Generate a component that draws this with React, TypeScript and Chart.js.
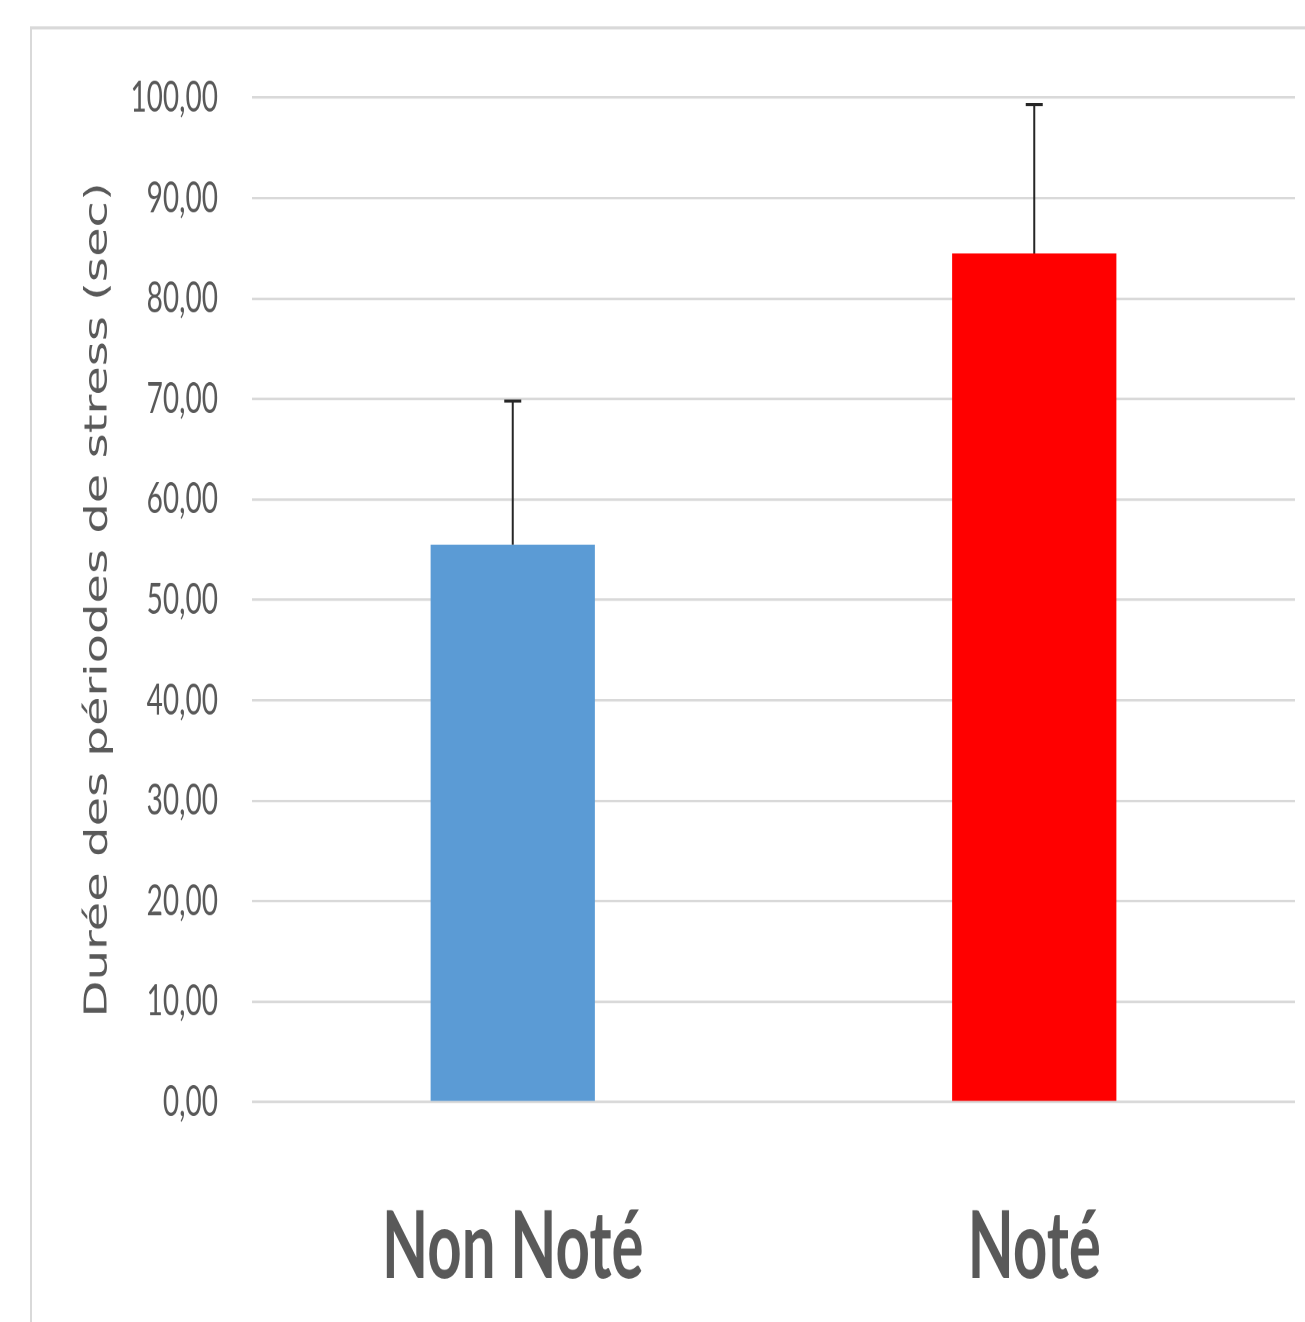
import React, { useEffect, useRef } from 'react';
import { Chart, registerables } from 'chart.js';

Chart.register(...registerables);

// ---- data ----
const categories: string[] = ['Non Noté', 'Noté'];
const meanValues: number[] = [55.5, 84.5];
const errorUp: number[] = [14.3, 14.8];
const barColors: string[] = ['#5b9bd5', '#ff0000'];
const yAxisTitle = 'Durée des périodes de stress (sec)';
const yMin = 0;
const yMax = 100;
const yStep = 10;

// ---- layout (the reference is stretched vertically) ----
const PAGE_W = 1305;
const PAGE_H = 1322;
const STRETCH = 1.55;
const CANVAS_H = Math.round(PAGE_H / STRETCH);

const frameBorder = {
  id: 'frameBorder',
  beforeDraw(chart: any) {
    const ctx = chart.ctx;
    ctx.save();
    ctx.strokeStyle = '#d9d9d9';
    ctx.lineWidth = 2;
    ctx.beginPath();
    ctx.moveTo(31, chart.height);
    ctx.lineTo(31, 18);
    ctx.lineTo(chart.width, 18);
    ctx.stroke();
    ctx.restore();
  },
};

const errorBars = {
  id: 'errorBars',
  afterDatasetsDraw(chart: any) {
    const ctx = chart.ctx;
    const meta = chart.getDatasetMeta(0);
    const yScale = chart.scales.y;
    ctx.save();
    ctx.strokeStyle = '#262626';
    ctx.lineWidth = 2;
    meta.data.forEach((bar: any, i: number) => {
      const x = bar.x;
      const yTop = yScale.getPixelForValue(meanValues[i] + errorUp[i]);
      const yBase = yScale.getPixelForValue(meanValues[i]);
      ctx.beginPath();
      ctx.moveTo(x, yBase);
      ctx.lineTo(x, yTop);
      ctx.moveTo(x - 8.5, yTop);
      ctx.lineTo(x + 8.5, yTop);
      ctx.stroke();
    });
    ctx.restore();
  },
};

export default function App() {
  const canvasRef = useRef<HTMLCanvasElement | null>(null);

  useEffect(() => {
    if (!canvasRef.current) return;
    const chart = new Chart(canvasRef.current, {
      type: 'bar',
      data: {
        labels: categories,
        datasets: [
          {
            data: meanValues,
            backgroundColor: barColors,
            borderWidth: 0,
            categoryPercentage: 1,
            barPercentage: 0.315,
          },
        ],
      },
      options: {
        responsive: false,
        animation: false,
        devicePixelRatio: 2,
        layout: { padding: { left: 0, right: 10, top: 63, bottom: 0 } },
        plugins: {
          legend: { display: false },
          tooltip: { enabled: false },
        },
        scales: {
          x: {
            grid: { display: false },
            border: { display: false },
            ticks: {
              color: '#595959',
              padding: 50,
              font: { family: 'Lato', size: 60, weight: 'bold' },
            },
            afterFit(scale: any) {
              scale.height = CANVAS_H - 711;
            },
          },
          y: {
            min: yMin,
            max: yMax,
            border: { display: false },
            grid: { color: '#d9d9d9', lineWidth: 1.6, drawTicks: false },
            ticks: {
              stepSize: yStep,
              padding: 34,
              color: '#595959',
              font: { family: 'Lato', size: 28 },
              callback: (v: any) => Number(v).toFixed(2).replace('.', ','),
            },
            title: {
              display: true,
              text: yAxisTitle,
              color: '#595959',
              padding: { top: 80, bottom: 0 },
              font: { family: 'DejaVu Sans', size: 31 },
            },
            afterFit(scale: any) {
              scale.width = 252;
            },
          },
        },
      },
      plugins: [frameBorder, errorBars],
    });
    return () => chart.destroy();
  }, []);

  return (
    <div
      style={{
        position: 'fixed',
        left: 0,
        top: 0,
        width: PAGE_W,
        height: PAGE_H,
        overflow: 'hidden',
        background: '#ffffff',
      }}
    >
      <canvas
        ref={canvasRef}
        width={PAGE_W}
        height={CANVAS_H}
        style={{
          width: PAGE_W,
          height: CANVAS_H,
          display: 'block',
          transform: `scaleY(${STRETCH})`,
          transformOrigin: '0 0',
        }}
      />
    </div>
  );
}
